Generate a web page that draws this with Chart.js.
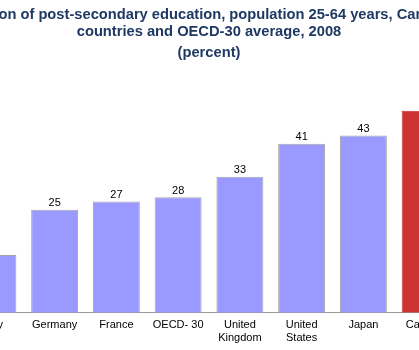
<!DOCTYPE html>
<html>
<head>
<meta charset="utf-8">
<script src="https://cdn.jsdelivr.net/npm/chart.js@4.4.1/dist/chart.umd.min.js"></script>
<style>
  html, body { margin: 0; padding: 0; background: #fff; overflow: hidden; }
  #wrap { position: absolute; left: -38px; top: 0; width: 494px; height: 350px; }
</style>
</head>
<body>
<div id="wrap"><canvas id="c"></canvas></div>
<script>
// Share of population aged 25-64 with completed post-secondary education, 2008
const countries = ['Italy', 'Germany', 'France', 'OECD- 30', ['United', 'Kingdom'], ['United', 'States'], 'Japan', 'Canada'];
const percentValues = [14, 25, 27, 28, 33, 41, 43, 49];
const highlighted = ['Canada'];

const titleLines = [
  'Completion of post-secondary education, population 25-64 years, Canada, G-7',
  'countries and OECD-30 average, 2008',
  '(percent)'
];

const barFill = countries.map(c => highlighted.includes(c) ? '#CC3333' : '#9999FF');
const barEdge = countries.map(c => highlighted.includes(c) ? '#CC3333' : '#A6A6A6');

// Heading drawn at natural width (the long first line is allowed to run past the canvas edges)
const heading = {
  id: 'heading',
  afterDraw(chart) {
    const ctx = chart.ctx;
    const baselines = [18.5, 35.5, 57];
    ctx.save();
    ctx.font = 'bold 14.7px "Liberation Sans", Arial, sans-serif';
    ctx.fillStyle = '#1F3864';
    ctx.textAlign = 'center';
    ctx.textBaseline = 'alphabetic';
    titleLines.forEach((line, i) => ctx.fillText(line, chart.width / 2, baselines[i]));
    ctx.restore();
  }
};

// Writes each bar's value just above it
const valueLabels = {
  id: 'valueLabels',
  afterDatasetsDraw(chart) {
    const ctx = chart.ctx;
    const meta = chart.getDatasetMeta(0);
    ctx.save();
    ctx.font = '11px "Liberation Sans", Arial, sans-serif';
    ctx.fillStyle = '#000';
    ctx.textAlign = 'center';
    ctx.textBaseline = 'bottom';
    meta.data.forEach((bar, i) => {
      ctx.fillText(String(percentValues[i]), bar.x, bar.y - 1);
    });
    ctx.restore();
  }
};

new Chart(document.getElementById('c'), {
  type: 'bar',
  data: {
    labels: countries,
    datasets: [{
      data: percentValues,
      backgroundColor: barFill,
      borderColor: barEdge,
      borderWidth: 1,
      barPercentage: 0.76,
      categoryPercentage: 1.0
    }]
  },
  options: {
    responsive: true,
    maintainAspectRatio: false,
    animation: false,
    layout: { padding: { left: 0, right: 0, top: 73.6, bottom: 0 } },
    plugins: {
      legend: { display: false },
      tooltip: { enabled: false },
      title: { display: false }
    },
    scales: {
      x: {
        grid: { display: false, drawTicks: false },
        border: { display: true, color: '#9A9A9A', width: 1 },
        ticks: {
          color: '#000',
          padding: 6,
          maxRotation: 0,
          autoSkip: false,
          font: { family: '"Liberation Sans", Arial, sans-serif', size: 11, lineHeight: 1.15 }
        }
      },
      y: {
        display: false,
        min: 0,
        max: 58
      }
    }
  },
  plugins: [valueLabels, heading]
});
</script>
</body>
</html>
